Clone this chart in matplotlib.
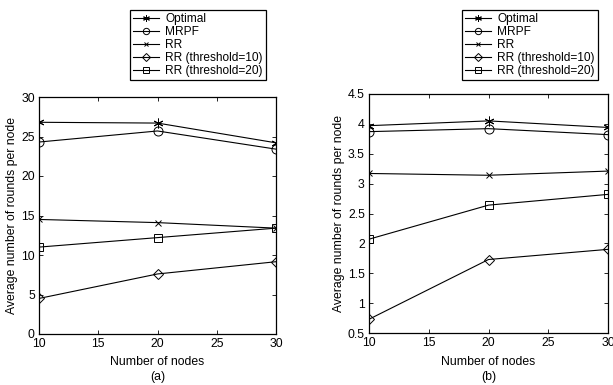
import numpy as np
import matplotlib.pyplot as plt

plt.rcParams['font.family'] = ['Liberation Sans', 'DejaVu Sans']
plt.rcParams['font.size'] = 8.8

nodes = [10, 20, 30]
labels = ["Optimal", "MRPF", "RR", "RR (threshold=10)", "RR (threshold=20)"]
markers = [(6, 2, 0), 'o', 'x', 'D', 's']
msizes = [7, 6.5, 5, 5.5, 6]

vals_a = [
    [26.8, 26.7, 24.2],   # Optimal
    [24.3, 25.7, 23.4],   # MRPF
    [14.5, 14.1, 13.4],   # RR
    [4.5, 7.6, 9.15],     # RR (threshold=10)
    [11.0, 12.2, 13.4],   # RR (threshold=20)
]
vals_b = [
    [3.97, 4.05, 3.94],
    [3.87, 3.92, 3.82],
    [3.17, 3.14, 3.21],
    [0.73, 1.73, 1.90],
    [2.07, 2.64, 2.82],
]

fig = plt.figure(figsize=(6.13, 3.85), dpi=100)
W, H = 613, 385

def draw(rect, leg_rect, vals, ylim, yticks, ytl, tag):
    l, t, r, b = rect
    ax = fig.add_axes([l / W, 1 - b / H, (r - l) / W, (b - t) / H])
    for v, m, ms, lab in zip(vals, markers, msizes, labels):
        ax.plot(nodes, v, color='k', lw=0.8, marker=m, ms=ms,
                mfc='none', mec='k', mew=0.7, label=lab)
    ax.set_xlim(10, 30)
    ax.set_ylim(*ylim)
    ax.set_xticks([10, 15, 20, 25, 30])
    ax.set_yticks(yticks)
    ax.set_yticklabels(ytl)
    ax.tick_params(direction='in', top=True, right=True, length=3, width=0.6)
    ax.tick_params(axis='x', pad=3)
    ax.tick_params(axis='y', pad=3)
    for s in ax.spines.values():
        s.set_linewidth(0.9)
    cx = (l + r) / 2 / W
    fig.text(cx, 1 - 362 / H, "Number of nodes", ha='center', va='center')
    fig.text(cx, 1 - 377 / H, "(%s)" % tag, ha='center', va='center')
    ax.set_ylabel("Average number of rounds per node", labelpad=2)
    ll, lt, lr, lb = leg_rect
    h, lb_ = ax.get_legend_handles_labels()
    leg = ax.legend(h, lb_, loc='upper left',
                    bbox_to_anchor=((ll - l) / (r - l), 1 + (t - lt) / (b - t)),
                    frameon=True, fancybox=False, edgecolor='k', framealpha=1,
                    handlelength=2.2, handletextpad=0.5, borderpad=0.25,
                    labelspacing=0.08, borderaxespad=0, markerscale=0.7,
                    fontsize=8.6)
    leg.get_frame().set_linewidth(0.9)
    return ax

draw((39, 97, 276, 334), (130, 10, 270, 82), vals_a, (0, 30),
     [0, 5, 10, 15, 20, 25, 30], ['0', '5', '10', '15', '20', '25', '30'], 'a')
draw((369, 94, 608, 333), (462, 10, 602, 82), vals_b, (0.5, 4.5),
     [0.5, 1, 1.5, 2, 2.5, 3, 3.5, 4, 4.5],
     ['0.5', '1', '1.5', '2', '2.5', '3', '3.5', '4', '4.5'], 'b')

fig.savefig("out.png", dpi=100)
